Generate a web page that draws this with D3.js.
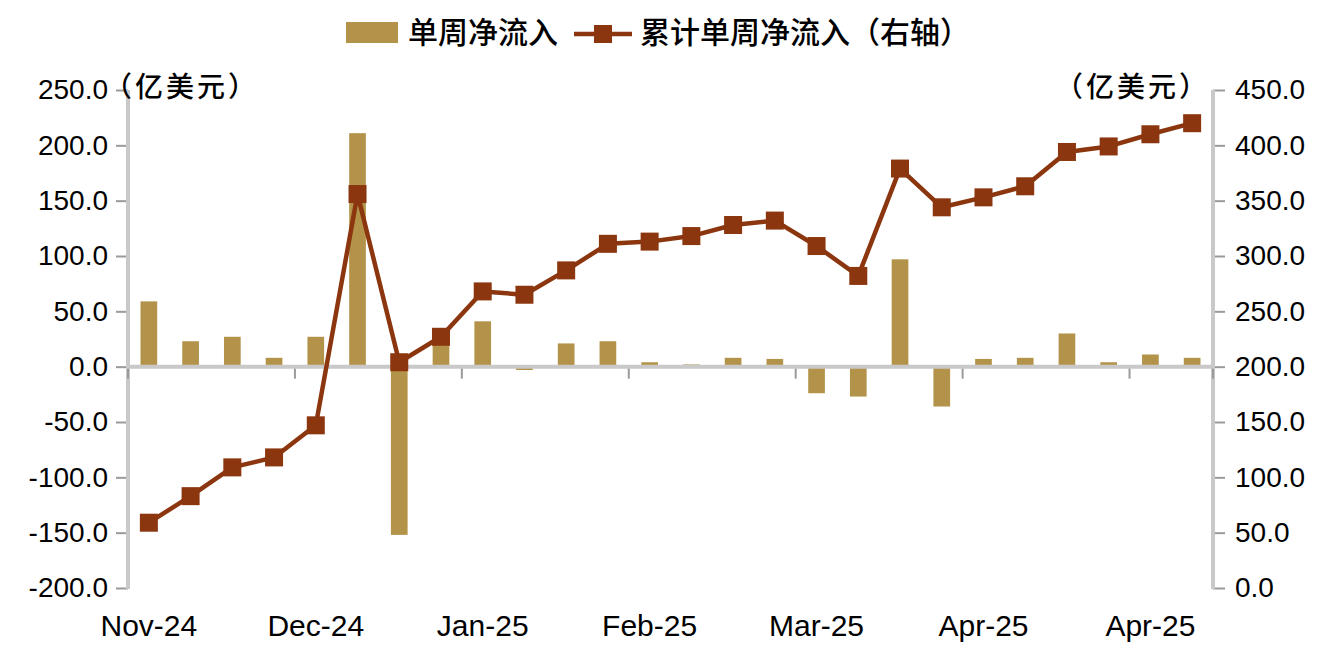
<!DOCTYPE html>
<html>
<head>
<meta charset="utf-8">
<script src="https://cdn.jsdelivr.net/npm/d3@7/dist/d3.min.js"></script>
<style>
    body { margin: 0; background: #fff; }
    svg text { font-family: 'Liberation Sans', Arial, sans-serif; fill: #000; }
    .cjk { font-family: 'Noto Sans CJK SC', sans-serif; font-weight: 500; }
</style>
</head>
<body>
<div id="chart"></div>
<script>
// weekly categories (26 weeks), labelled every 4th week
const weeks = ['W1', 'W2', 'W3', 'W4', 'W5', 'W6', 'W7', 'W8', 'W9', 'W10', 'W11', 'W12', 'W13',
    'W14', 'W15', 'W16', 'W17', 'W18', 'W19', 'W20', 'W21', 'W22', 'W23', 'W24', 'W25', 'W26'];
const xTickWeeks = ['W1', 'W5', 'W9', 'W13', 'W17', 'W21', 'W25'];
const xTickLabels = ['Nov-24', 'Dec-24', 'Jan-25', 'Feb-25', 'Mar-25', 'Apr-25', 'Apr-25'];

// 单周净流入 (left axis, 亿美元)
const weeklyFlow = [59, 23, 27, 8, 27, 211, -152, 22, 41, -3, 21, 23, 4, 2, 8, 7,
    -24, -27, 97, -36, 7, 8, 30, 4, 11, 8];
// 累计单周净流入 (right axis, 亿美元)
const cumulativeFlow = [59, 83, 109, 118, 147, 356, 204, 227, 268, 265, 287, 311, 313, 318, 328, 332,
    309, 282, 379, 344, 353, 363, 394, 399, 410, 420];

const leftTicks = [250, 200, 150, 100, 50, 0, -50, -100, -150, -200];
const rightTicks = [450, 400, 350, 300, 250, 200, 150, 100, 50, 0];

const barColor = '#b39349';
const lineColor = '#8b360f';
const axisColor = '#c9c9c9';
const tickColor = '#9a9a9a';

const W = 1329, H = 657;
const plot = { left: 128, right: 1213, top: 90, bottom: 588 };

// plain hyphen for negatives, like the original
const fmt = d => d.toFixed(1);

const svg = d3.select('#chart').append('svg').attr('width', W).attr('height', H);

// scales
const x = d3.scaleBand().domain(weeks).range([plot.left, plot.right])
    .paddingInner(0.6).paddingOuter(0.3);
const step = x.step();
const yL = d3.scaleLinear().domain([-200, 250]).range([plot.bottom, plot.top]);
const yR = d3.scaleLinear().domain([0, 450]).range([plot.bottom, plot.top]);

// left axis
const leftAxis = svg.append('g').attr('transform', `translate(${plot.left},0)`)
    .call(d3.axisLeft(yL).tickValues(leftTicks).tickFormat(fmt).tickSize(12).tickPadding(8));
leftAxis.select('.domain').remove();
leftAxis.selectAll('.tick line').attr('stroke', tickColor).attr('stroke-width', 2);
leftAxis.selectAll('.tick text').attr('font-size', 28).style('font-family', "'Liberation Sans', Arial, sans-serif");
svg.append('line').attr('x1', plot.left).attr('x2', plot.left)
    .attr('y1', plot.top).attr('y2', plot.bottom + 1).attr('stroke', axisColor).attr('stroke-width', 4);

// right axis
const rightAxis = svg.append('g').attr('transform', `translate(${plot.right},0)`)
    .call(d3.axisRight(yR).tickValues(rightTicks).tickFormat(fmt).tickSize(12).tickPadding(10));
rightAxis.select('.domain').remove();
rightAxis.selectAll('.tick line').attr('stroke', tickColor).attr('stroke-width', 2);
rightAxis.selectAll('.tick text').attr('font-size', 28).style('font-family', "'Liberation Sans', Arial, sans-serif");
svg.append('line').attr('x1', plot.right).attr('x2', plot.right)
    .attr('y1', plot.top).attr('y2', plot.bottom + 1).attr('stroke', axisColor).attr('stroke-width', 4);

// bars
svg.append('g').selectAll('rect').data(weeklyFlow).join('rect')
    .attr('x', (d, i) => x(weeks[i]))
    .attr('width', x.bandwidth())
    .attr('y', d => yL(Math.max(0, d)))
    .attr('height', d => Math.abs(yL(d) - yL(0)))
    .attr('fill', barColor);

// zero line + x ticks at week boundaries
svg.append('line').attr('x1', plot.left).attr('x2', plot.right)
    .attr('y1', yL(0)).attr('y2', yL(0)).attr('stroke', axisColor).attr('stroke-width', 4);
svg.append('g').selectAll('line').data(xTickWeeks.concat(['end'])).join('line')
    .attr('x1', d => d === 'end' ? plot.right : x(d) - step * 0.3)
    .attr('x2', d => d === 'end' ? plot.right : x(d) - step * 0.3)
    .attr('y1', yL(0) + 2).attr('y2', yL(0) + 12)
    .attr('stroke', tickColor).attr('stroke-width', 2);

// x labels
svg.append('g').selectAll('text').data(xTickWeeks).join('text')
    .attr('x', d => x(d) + x.bandwidth() / 2)
    .attr('y', 636)
    .attr('text-anchor', 'middle')
    .attr('font-size', 30)
    .text((d, i) => xTickLabels[i]);

// cumulative line
const line = d3.line()
    .x((d, i) => x(weeks[i]) + x.bandwidth() / 2)
    .y(d => yR(d));
svg.append('path').datum(cumulativeFlow)
    .attr('d', line).attr('fill', 'none')
    .attr('stroke', lineColor).attr('stroke-width', 4.5).attr('stroke-linejoin', 'round');
svg.append('g').selectAll('rect').data(cumulativeFlow).join('rect')
    .attr('x', (d, i) => x(weeks[i]) + x.bandwidth() / 2 - 9)
    .attr('y', d => yR(d) - 9)
    .attr('width', 18).attr('height', 18)
    .attr('fill', lineColor);

// unit labels
svg.append('text').attr('class', 'cjk').attr('x', 104).attr('y', 97)
    .attr('font-size', 28).attr('letter-spacing', 3).text('（亿美元）');
svg.append('text').attr('class', 'cjk').attr('x', 1055).attr('y', 97)
    .attr('font-size', 28).attr('letter-spacing', 3).text('（亿美元）');

// legend
const legend = svg.append('g');
legend.append('rect').attr('x', 346).attr('y', 22).attr('width', 52).attr('height', 21).attr('fill', barColor);
legend.append('text').attr('class', 'cjk').attr('x', 408).attr('y', 43).attr('font-size', 30).text('单周净流入');
legend.append('line').attr('x1', 574).attr('x2', 632).attr('y1', 34).attr('y2', 34)
    .attr('stroke', lineColor).attr('stroke-width', 4.5);
legend.append('rect').attr('x', 594).attr('y', 25).attr('width', 18).attr('height', 18).attr('fill', lineColor);
legend.append('text').attr('class', 'cjk').attr('x', 640).attr('y', 43).attr('font-size', 30).text('累计单周净流入（右轴）');
</script>
</body>
</html>
